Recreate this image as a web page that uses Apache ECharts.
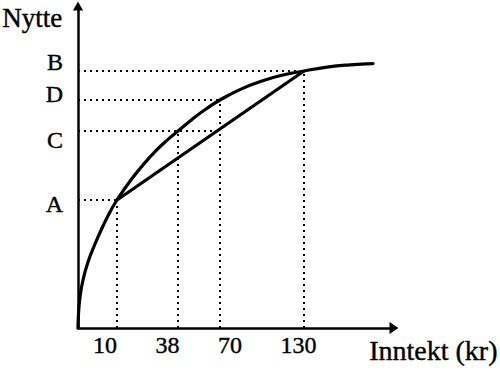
<!DOCTYPE html>
<html>
<head>
<meta charset="utf-8">
<script src="https://cdn.jsdelivr.net/npm/echarts@6/dist/echarts.min.js"></script>
<style>
html,body{margin:0;padding:0;background:#fff;}
#chart{width:500px;height:370px;}
</style>
</head>
<body>
<div id="chart"></div>
<script>
// Schematic diagram: axis units are drawing units (the picture is not to scale).
const incomeLabels = ['10', '38', '70', '130'];
const incomePos = [39, 100, 142, 226];          // where each income sits on the x axis
const incomeLabelPos = [27, 89.5, 152, 220.5];   // where each income label is printed
const utilityLabels = ['A', 'C', 'D', 'B'];
const utilityLevels = [128, 197, 228, 257];      // utility levels of the dotted guides
const utilityLabelPos = [124, 188, 234, 266];    // where each utility label is printed
const hGuideEnd = [39, 142, 142, 226];           // x where each horizontal guide ends
const vGuideTop = [128, 197, 228, 257];          // y where each vertical guide ends

const curveX = [0, 0.5, 2, 5, 10, 17, 25, 32, 39, 52, 65, 78, 90, 100, 114, 128, 142, 163, 184, 205, 226, 249, 272, 295];
const curveY = [0, 14, 31, 48, 66, 84, 102, 116, 128, 146.8, 163, 177.3, 188.6, 197, 208.6, 219, 228, 238.9, 247.1, 253, 257, 260.9, 263.2, 264.4];

const chordX = [39, 226];
const chordY = [128, 257];

const xMax = 316, yMax = 322;
const FONT = "'Liberation Serif', 'Times New Roman', serif";

const zip = (a, b) => a.map((v, i) => [v, b[i]]);

const dotted = { color: '#000', width: 2, type: [2, 4] };
const series = [];
utilityLevels.forEach((y, i) => {
  series.push({ type: 'line', symbol: 'none', silent: true, lineStyle: dotted,
    data: [[0, y], [hGuideEnd[i], y]] });
});
incomePos.forEach((x, i) => {
  series.push({ type: 'line', symbol: 'none', silent: true, lineStyle: dotted,
    data: [[x, 0], [x, vGuideTop[i]]] });
});
series.push({ type: 'line', symbol: 'none', smooth: 0.5,
  lineStyle: { color: '#000', width: 3.2, join: 'round', cap: 'round' }, data: zip(curveX, curveY) });
series.push({ type: 'line', symbol: 'none',
  lineStyle: { color: '#000', width: 3.2 }, data: zip(chordX, chordY) });

const textHeavy = { textBorderColor: '#000', textBorderWidth: 0.4 };

const chart = echarts.init(document.getElementById('chart'), null, { renderer: 'svg' });
chart.setOption({
  animation: false,
  backgroundColor: '#fff',
  grid: { left: 78, right: 500 - 78 - xMax, top: 6, bottom: 42, containLabel: false },
  xAxis: {
    type: 'value', min: 0, max: xMax,
    splitLine: { show: false },
    axisTick: { show: false },
    axisLine: { show: true, onZero: false, symbol: ['none', 'triangle'], symbolSize: [12, 9],
      lineStyle: { color: '#000', width: 2.5 } },
    axisLabel: Object.assign({
      customValues: incomeLabelPos,
      formatter: v => incomeLabels[incomeLabelPos.indexOf(v)] || '',
      color: '#000', fontFamily: FONT, fontSize: 24, margin: 16.5, verticalAlign: 'middle'
    }, textHeavy)
  },
  yAxis: {
    type: 'value', min: 0, max: yMax,
    splitLine: { show: false },
    axisTick: { show: false },
    axisLine: { show: true, onZero: false, symbol: ['none', 'triangle'], symbolSize: [10, 9],
      lineStyle: { color: '#000', width: 2.5 } },
    axisLabel: Object.assign({
      customValues: utilityLabelPos,
      formatter: v => utilityLabels[utilityLabelPos.indexOf(v)] || '',
      color: '#000', fontFamily: FONT, fontSize: 24, margin: 15
    }, textHeavy)
  },
  graphic: [
    { type: 'text', left: 2, top: 4, style: { text: 'Nytte', font: '27px ' + FONT, fill: '#000', stroke: '#000', lineWidth: 0.4 } },
    { type: 'text', left: 369, top: 336, style: { text: 'Inntekt (kr)', font: '28px ' + FONT, fill: '#000', stroke: '#000', lineWidth: 0.4 } }
  ],
  series: series
});
</script>
</body>
</html>
